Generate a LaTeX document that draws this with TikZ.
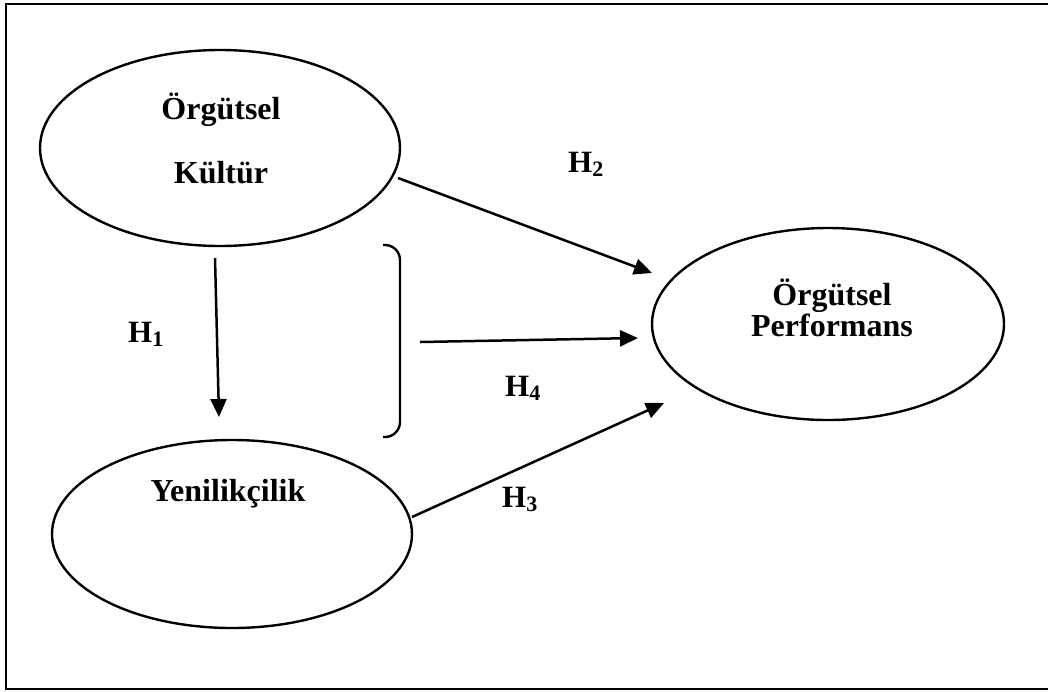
\documentclass[tikz,border=0pt]{standalone}
\usepackage{fontspec}
\setmainfont{Liberation Serif}
\usetikzlibrary{shapes.geometric,arrows.meta}
\begin{document}
\begin{tikzpicture}[x=1pt,y=-1pt,
  construct/.style={draw,ellipse,line width=2.4pt,inner sep=0pt},
  lbl/.style={font=\fontsize{32}{32}\selectfont\bfseries,inner sep=0pt,anchor=base},
  hyp/.style={font=\fontsize{31}{31}\selectfont\bfseries,inner sep=0pt,anchor=base west},
  link/.style={line width=2.5pt,-{Triangle[length=18pt,width=16pt]}}]
\useasboundingbox (0,0) rectangle (1048,691);
% outer frame
\draw[line width=2.8pt] (6,4) rectangle (1060,689);

% constructs
\node[construct,minimum width=360pt,minimum height=196pt] (kultur) at (220,148) {};
\node[construct,minimum width=360pt,minimum height=188pt] (yenilik) at (232,534) {};
\node[construct,minimum width=352pt,minimum height=192pt] (perf) at (828,324) {};

\node[lbl] (t1) at (221,119) {Örgütsel};
\node[lbl] (t2) at (221,183) {Kültür};
\node[lbl] (t3) at (228,501) {Yenilikçilik};
\node[lbl] (t4) at (832,305) {Örgütsel};
\node[lbl] (t5) at (832,336) {Performans};

% arrow end points
\coordinate (h1s) at (215,258);
\coordinate (h1e) at (219,417);
\coordinate (h2s) at (398,178);
\coordinate (h2e) at (652,273);
\coordinate (h4s) at (420,342);
\coordinate (h4e) at (638,338);
\coordinate (h3s) at (412,517);
\coordinate (h3e) at (664,403);

\draw[link] (h1s) -- (h1e);
\draw[link] (h2s) -- (h2e);
\draw[link] (h4s) -- (h4e);
\draw[link] (h3s) -- (h3e);

% bracket grouping the two predictors
\coordinate (bt) at (383,245);
\coordinate (bb) at (383,437);
\draw[line width=2.4pt,rounded corners=15pt] (bt) -| (400,437) -- (bb);

% hypothesis labels
\newcommand{\hsub}[1]{\raisebox{-4pt}{\fontsize{22}{22}\selectfont #1}}
\node[hyp] (H1) at (128,342) {H\hsub{1}};
\node[hyp] (H2) at (568,172) {H\hsub{2}};
\node[hyp] (H4) at (505,396) {H\hsub{4}};
\node[hyp] (H3) at (502,507) {H\hsub{3}};
\end{tikzpicture}
\end{document}
